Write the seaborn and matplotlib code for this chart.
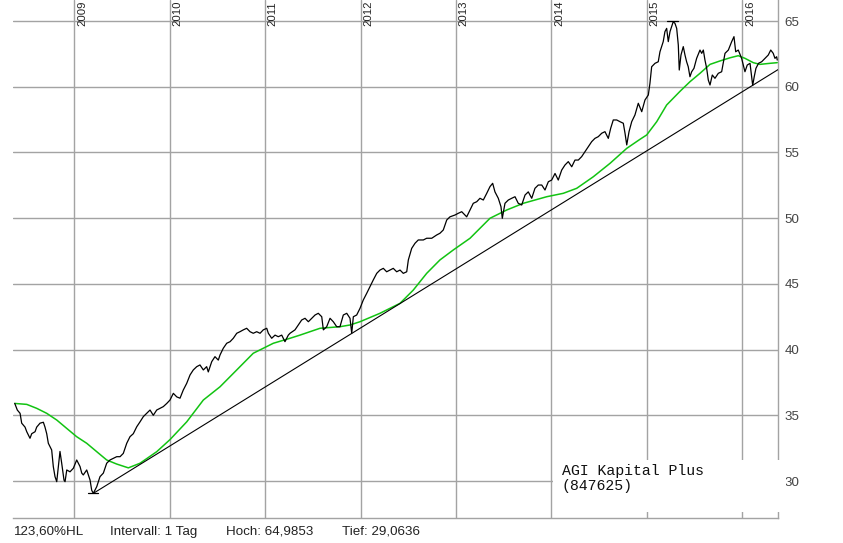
import matplotlib
matplotlib.use("Agg")
import matplotlib.pyplot as plt
import seaborn as sns
import pandas as pd
from matplotlib.patches import Rectangle
from matplotlib.transforms import blended_transform_factory

# ---------------- data ----------------
price_t = [2008.379, 2008.406, 2008.435, 2008.452, 2008.487, 2008.505, 2008.539, 2008.557, 2008.592, 2008.609,
           2008.644, 2008.679, 2008.696, 2008.714, 2008.731, 2008.766, 2008.783, 2008.801, 2008.819, 2008.836,
           2008.853, 2008.871, 2008.895, 2008.906, 2008.924, 2008.958, 2008.993, 2009.028, 2009.063, 2009.081,
           2009.097, 2009.133, 2009.168, 2009.185, 2009.202, 2009.238, 2009.272, 2009.307, 2009.342, 2009.377,
           2009.447, 2009.482, 2009.516, 2009.552, 2009.586, 2009.621, 2009.657, 2009.691, 2009.726, 2009.761,
           2009.796, 2009.830, 2009.866, 2009.901, 2009.935, 2009.971, 2010.005, 2010.040, 2010.076, 2010.110,
           2010.144, 2010.180, 2010.215, 2010.249, 2010.285, 2010.319, 2010.354, 2010.389, 2010.406, 2010.442,
           2010.476, 2010.511, 2010.529, 2010.563, 2010.599, 2010.634, 2010.668, 2010.704, 2010.738, 2010.773,
           2010.808, 2010.843, 2010.877, 2010.913, 2010.948, 2010.982, 2011.018, 2011.035, 2011.070, 2011.105,
           2011.139, 2011.175, 2011.209, 2011.244, 2011.262, 2011.314, 2011.349, 2011.384, 2011.419, 2011.454,
           2011.489, 2011.524, 2011.558, 2011.594, 2011.611, 2011.646, 2011.681, 2011.715, 2011.751, 2011.785,
           2011.820, 2011.856, 2011.890, 2011.908, 2011.925, 2011.960, 2011.995, 2012.029, 2012.065, 2012.099,
           2012.134, 2012.170, 2012.204, 2012.239, 2012.274, 2012.309, 2012.343, 2012.379, 2012.414, 2012.448,
           2012.484, 2012.501, 2012.536, 2012.571, 2012.605, 2012.658, 2012.693, 2012.746, 2012.798, 2012.832,
           2012.867, 2012.903, 2012.937, 2012.990, 2013.024, 2013.060, 2013.094, 2013.112, 2013.147, 2013.181,
           2013.217, 2013.251, 2013.286, 2013.322, 2013.356, 2013.384, 2013.408, 2013.443, 2013.471, 2013.485,
           2013.513, 2013.548, 2013.583, 2013.618, 2013.652, 2013.688, 2013.723, 2013.757, 2013.793, 2013.827,
           2013.862, 2013.898, 2013.932, 2013.967, 2014.002, 2014.037, 2014.071, 2014.107, 2014.141, 2014.176,
           2014.212, 2014.246, 2014.281, 2014.316, 2014.351, 2014.385, 2014.421, 2014.455, 2014.490, 2014.526,
           2014.560, 2014.595, 2014.620, 2014.647, 2014.683, 2014.717, 2014.752, 2014.770, 2014.788, 2014.812,
           2014.840, 2014.874, 2014.909, 2014.945, 2014.979, 2015.014, 2015.031, 2015.049, 2015.084, 2015.118,
           2015.136, 2015.170, 2015.188, 2015.206, 2015.223, 2015.241, 2015.275, 2015.293, 2015.311, 2015.328,
           2015.338, 2015.356, 2015.380, 2015.398, 2015.415, 2015.432, 2015.450, 2015.468, 2015.492, 2015.520,
           2015.555, 2015.573, 2015.590, 2015.607, 2015.625, 2015.642, 2015.660, 2015.684, 2015.712, 2015.747,
           2015.782, 2015.817, 2015.852, 2015.887, 2015.911, 2015.929, 2015.956, 2015.991, 2016.026, 2016.050,
           2016.079, 2016.107, 2016.123, 2016.141, 2016.168, 2016.201, 2016.236, 2016.270, 2016.296, 2016.322,
           2016.340, 2016.358, 2016.364]
price_v = [35.91, 35.40, 35.15, 34.40, 34.10, 33.75, 33.25, 33.60, 33.75, 34.10,
           34.40, 34.47, 34.10, 33.60, 32.87, 32.36, 31.10, 30.33, 29.95, 31.10,
           32.25, 31.35, 30.07, 29.95, 30.84, 30.70, 30.97, 31.60, 31.10, 30.60,
           30.46, 30.84, 30.07, 29.30, 29.06, 29.57, 30.33, 30.60, 31.35, 31.60,
           31.85, 31.85, 32.10, 32.87, 33.37, 33.60, 34.13, 34.50, 34.90, 35.15,
           35.40, 35.00, 35.40, 35.53, 35.66, 35.90, 36.16, 36.67, 36.40, 36.30,
           36.92, 37.43, 38.07, 38.45, 38.70, 38.83, 38.45, 38.70, 38.30, 39.08,
           39.46, 39.20, 39.59, 40.10, 40.48, 40.60, 40.86, 41.24, 41.36, 41.50,
           41.62, 41.36, 41.24, 41.36, 41.24, 41.50, 41.62, 41.24, 40.86, 41.10,
           40.98, 41.10, 40.60, 41.10, 41.24, 41.50, 41.87, 42.25, 42.38, 42.12,
           42.38, 42.63, 42.76, 42.50, 41.50, 41.74, 42.38, 42.12, 41.74, 41.74,
           42.63, 42.76, 42.38, 41.24, 42.50, 42.63, 43.14, 43.77, 44.28, 44.79,
           45.30, 45.80, 46.05, 46.18, 45.92, 46.05, 46.18, 45.92, 46.05, 45.80,
           45.92, 46.82, 47.70, 48.09, 48.34, 48.34, 48.47, 48.47, 48.72, 48.85,
           49.10, 49.86, 50.10, 50.24, 50.37, 50.49, 50.24, 50.10, 50.62, 51.13,
           51.25, 51.51, 51.38, 51.89, 52.40, 52.65, 52.00, 51.51, 50.87, 49.99,
           51.13, 51.38, 51.51, 51.63, 51.13, 51.00, 51.76, 52.00, 51.51, 52.27,
           52.52, 52.52, 52.14, 52.77, 52.90, 53.40, 52.90, 53.66, 54.04, 54.30,
           53.91, 54.42, 54.42, 54.68, 55.06, 55.44, 55.82, 56.07, 56.20, 56.46,
           56.58, 56.07, 56.84, 57.47, 57.47, 57.34, 57.22, 56.46, 55.57, 56.58,
           57.34, 57.85, 58.74, 58.10, 58.99, 59.37, 60.26, 61.52, 61.78, 61.90,
           62.66, 63.43, 64.19, 64.44, 63.43, 64.19, 64.95, 64.82, 64.44, 63.17,
           61.27, 62.41, 63.05, 62.41, 61.90, 61.52, 60.76, 61.14, 61.40, 62.16,
           62.79, 62.54, 62.79, 62.03, 61.40, 60.51, 60.13, 60.89, 60.64, 61.02,
           61.14, 62.54, 62.79, 63.43, 63.81, 62.66, 62.79, 62.16, 61.14, 61.65,
           61.78, 60.10, 60.76, 61.40, 61.78, 61.90, 62.16, 62.41, 62.79, 62.54,
           62.16, 62.28, 62.03]

avg_t = [2008.382, 2008.505, 2008.609, 2008.714, 2008.819, 2008.924, 2009.028, 2009.133, 2009.238, 2009.342,
         2009.447, 2009.569, 2009.691, 2009.866, 2010.005, 2010.180, 2010.354, 2010.529, 2010.704, 2010.877,
         2010.982, 2011.087, 2011.262, 2011.366, 2011.576, 2011.785, 2011.890, 2011.995, 2012.204, 2012.414,
         2012.553, 2012.693, 2012.832, 2012.972, 2013.147, 2013.356, 2013.531, 2013.705, 2013.950, 2014.124,
         2014.264, 2014.438, 2014.613, 2014.788, 2014.927, 2014.997, 2015.102, 2015.206, 2015.346, 2015.450,
         2015.555, 2015.660, 2015.764, 2015.869, 2015.956, 2016.026, 2016.113, 2016.183, 2016.288, 2016.364]
avg_v = [35.90, 35.83, 35.53, 35.15, 34.64, 34.00, 33.37, 32.87, 32.23, 31.60,
         31.29, 31.00, 31.35, 32.23, 33.15, 34.50, 36.16, 37.17, 38.45, 39.72,
         40.10, 40.48, 40.86, 41.10, 41.62, 41.74, 41.87, 42.12, 42.76, 43.52,
         44.53, 45.80, 46.82, 47.58, 48.47, 49.99, 50.62, 51.13, 51.63, 51.89,
         52.27, 53.15, 54.17, 55.31, 56.00, 56.33, 57.34, 58.61, 59.65, 60.38,
         61.02, 61.70, 61.96, 62.20, 62.36, 62.16, 61.83, 61.70, 61.78, 61.83]

trend_t = [2009.202, 2016.372]
trend_v = [29.06, 61.30]

high_point = (2015.275, 64.985)
low_point = (2009.202, 29.064)

years = [2009, 2010, 2011, 2012, 2013, 2014, 2015, 2016]
y_ticks = [30, 35, 40, 45, 50, 55, 60, 65]

footer = ["123,60%HL", "Intervall: 1 Tag", "Hoch: 64,9853", "Tief: 29,0636"]
title_lines = ["AGI Kapital Plus", "(847625)"]

# ---------------- figure ----------------
sns.set_style("white")
plt.rcParams["font.family"] = ["Liberation Sans", "DejaVu Sans"]

W, H = 843, 543
fig = plt.figure(figsize=(W / 100, H / 100), dpi=100)
ax_l, ax_r, ax_b, ax_t = 13, 778, 518, 0
ax = fig.add_axes([ax_l / W, (H - ax_b) / H, (ax_r - ax_l) / W, (ax_b - ax_t) / H])

ax.set_xlim(2008.361, 2016.372)
ax.set_ylim(27.185, 66.598)

grid_c = "#a3a3a3"
for y in y_ticks:
    ax.axhline(y, color=grid_c, lw=1.0, zorder=1)
for x in years:
    ax.axvline(x, color=grid_c, lw=1.0, zorder=1)

df_p = pd.DataFrame({"t": price_t, "v": price_v})
df_a = pd.DataFrame({"t": avg_t, "v": avg_v})
sns.lineplot(data=df_a, x="t", y="v", ax=ax, color="#12c312", lw=1.1, zorder=3)
sns.lineplot(data=df_p, x="t", y="v", ax=ax, color="black", lw=0.9, zorder=4)
ax.plot(trend_t, trend_v, color="black", lw=0.8, zorder=4)

# high / low markers
ax.plot([high_point[0] - 0.07, high_point[0] + 0.055], [high_point[1]] * 2, color="black", lw=0.9, zorder=5)
ax.plot([low_point[0] - 0.06, low_point[0] + 0.045], [low_point[1]] * 2, color="black", lw=0.9, zorder=5)

# spines
for s in ["top", "left"]:
    ax.spines[s].set_visible(False)
for s in ["right", "bottom"]:
    ax.spines[s].set_color(grid_c)
    ax.spines[s].set_linewidth(1.0)

ax.set_xlabel("")
ax.set_ylabel("")
ax.set_xticks([])
ax.yaxis.tick_right()
ax.set_yticks(y_ticks)
ax.set_yticklabels([str(v) for v in y_ticks])
ax.tick_params(axis="y", length=0, pad=4.5, labelsize=9.6, labelcolor="#444444")

# year labels at top
trans = blended_transform_factory(ax.transData, ax.transAxes)
for yr in years:
    ax.text(yr + 0.03, (ax_b - 25.5) / (ax_b - ax_t), str(yr), rotation=90, ha="left", va="bottom",
            fontsize=8.2, color="#222222", transform=trans, clip_on=False, zorder=6)

# title box
box_x0 = (553 - ax_l) / (ax_r - ax_l)
box_y0 = (ax_b - 512) / (ax_b - ax_t)
box_y1 = (ax_b - 460) / (ax_b - ax_t)
ax.add_patch(Rectangle((box_x0, box_y0), 1.01 - box_x0, box_y1 - box_y0, transform=ax.transAxes,
                       facecolor="white", edgecolor="none", zorder=7, clip_on=False))
fig.text(562 / W, 1 - 475 / H, title_lines[0], family=["Liberation Mono", "DejaVu Sans Mono"],
         fontsize=10.7, color="#111111", ha="left", va="baseline", zorder=8)
fig.text(562 / W, 1 - 490 / H, title_lines[1], family=["Liberation Mono", "DejaVu Sans Mono"],
         fontsize=10.7, color="#111111", ha="left", va="baseline", zorder=8)

# footer
footer_x = [14, 110, 226, 342]
for fx, txt in zip(footer_x, footer):
    fig.text(fx / W, 1 - 535 / H, txt, fontsize=9.6, color="#222222", ha="left", va="baseline")

fig.savefig("out.png", dpi=100, facecolor="white")
